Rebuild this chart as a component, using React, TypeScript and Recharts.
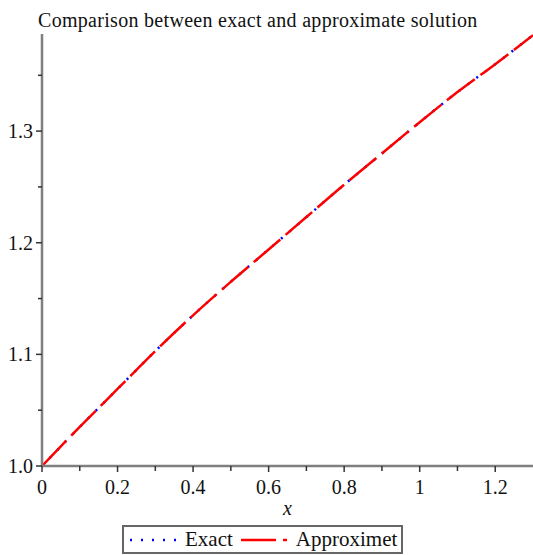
import { LineChart, Line, XAxis, YAxis } from "recharts";

// sample points along x
const xValues = [0, 0.1, 0.2, 0.3, 0.4, 0.5, 0.6, 0.7, 0.8, 0.9, 1.0, 1.1, 1.2, 1.3];
const exactValues = [1.0, 1.035, 1.069, 1.103, 1.135, 1.165, 1.194, 1.223, 1.252, 1.28, 1.308, 1.335, 1.36, 1.386];
const approxValues = [1.0, 1.035, 1.069, 1.103, 1.135, 1.165, 1.194, 1.223, 1.252, 1.28, 1.308, 1.335, 1.36, 1.386];

const xTicks = [0, 0.1, 0.2, 0.3, 0.4, 0.5, 0.6, 0.7, 0.8, 0.9, 1, 1.1, 1.2];
const xTickLabels: Record<string, string> = { "0": "0", "0.2": "0.2", "0.4": "0.4", "0.6": "0.6", "0.8": "0.8", "1": "1", "1.2": "1.2" };
const yTicks = [1.0, 1.05, 1.1, 1.15, 1.2, 1.25, 1.3, 1.35];
const yTickLabels: Record<string, string> = { "1": "1.0", "1.1": "1.1", "1.2": "1.2", "1.3": "1.3" };

const data = xValues.map((x, i) => ({ x, exact: exactValues[i], approx: approxValues[i] }));

const FONT = "'Liberation Serif', 'Times New Roman', serif";
const AXIS = "#7f7f7f";

function XTick(props: any) {
  const { x, y, payload } = props;
  const label = xTickLabels[String(payload.value)];
  return (
    <g>
      <line x1={x} x2={x} y1={y} y2={y + (label ? 6 : 5)} stroke="#333" strokeWidth={1.5} />
      {label && (
        <text x={x} y={y + 28} textAnchor="middle" fontFamily={FONT} fontSize={20} fill="#111">
          {label}
        </text>
      )}
    </g>
  );
}

function YTick(props: any) {
  const { x, y, payload } = props;
  const label = yTickLabels[String(payload.value)];
  return (
    <g>
      <line x1={x} x2={x - (label ? 6 : 4)} y1={y} y2={y} stroke="#333" strokeWidth={1.5} />
      {label && (
        <text x={x - 9} y={y + 7} textAnchor="end" fontFamily={FONT} fontSize={20} fill="#111">
          {label}
        </text>
      )}
    </g>
  );
}

export default function App() {
  return (
    <div style={{ position: "absolute", left: 0, top: 0, width: 533, height: 555, background: "#fff", fontFamily: FONT }}>
      <LineChart width={533} height={555} data={data} margin={{ top: 34, right: 0, left: 0, bottom: 39 }}>
        <XAxis
          dataKey="x"
          type="number"
          domain={[0, 1.3]}
          ticks={xTicks}
          tick={<XTick />}
          tickLine={false}
          tickSize={0}
          tickMargin={0}
          height={50}
          axisLine={{ stroke: AXIS, strokeWidth: 2.5 }}
          allowDataOverflow
          label={{ value: "x", position: "insideBottom", offset: 1, fontFamily: FONT, fontSize: 20, fontStyle: "italic", fill: "#111" }}
        />
        <YAxis
          type="number"
          domain={[1.0, 1.387]}
          ticks={yTicks}
          tick={<YTick />}
          tickLine={false}
          tickSize={0}
          tickMargin={0}
          width={42}
          axisLine={{ stroke: AXIS, strokeWidth: 2.5 }}
          allowDataOverflow
        />
        <Line dataKey="exact" type="monotone" stroke="#0000ff" strokeWidth={2.5} strokeDasharray="2 9" dot={false} isAnimationActive={false} />
        <Line dataKey="approx" type="monotone" stroke="#ff0000" strokeWidth={2.5} strokeDasharray="35 7" dot={false} isAnimationActive={false} />
      </LineChart>
      <div style={{ position: "absolute", left: 38, top: 9, fontSize: 20, letterSpacing: 0.3, color: "#111", whiteSpace: "nowrap" }}>
        Comparison between exact and approximate solution
      </div>
      <div
        style={{
          position: "absolute", left: 122, top: 525, width: 281, height: 29, boxSizing: "border-box",
          border: "2px solid #666", display: "flex", alignItems: "center", fontSize: 21, color: "#111", whiteSpace: "nowrap",
        }}
      >
        <svg width={50} height={10} style={{ marginLeft: 4 }}>
          <line x1={2} x2={48} y1={5} y2={5} stroke="#0000ff" strokeWidth={2.5} strokeDasharray="2 9" />
        </svg>
        <span style={{ marginLeft: 7 }}>Exact</span>
        <svg width={50} height={10} style={{ marginLeft: 6 }}>
          <line x1={2} x2={48} y1={5} y2={5} stroke="#ff0000" strokeWidth={2.5} strokeDasharray="35 7" />
        </svg>
        <span style={{ marginLeft: 7 }}>Approximet</span>
      </div>
    </div>
  );
}
